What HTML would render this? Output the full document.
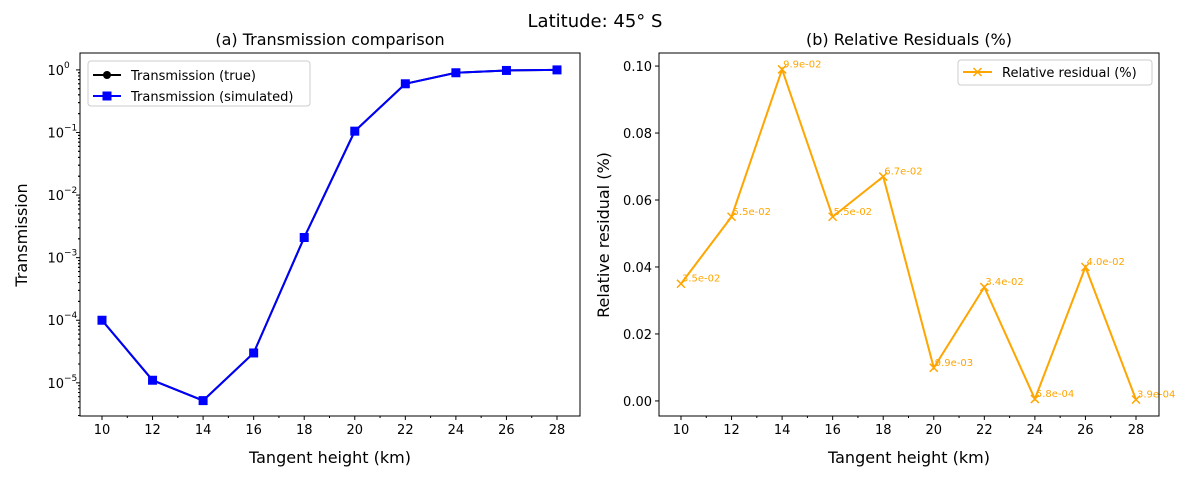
<!DOCTYPE html>
<html><head><meta charset="utf-8"><style>
body{margin:0;background:#fff;}
svg{display:block;font-family:"DejaVu Sans","Liberation Sans",sans-serif;}
</style></head><body>
<svg id="fig" width="1191" height="479" viewBox="0 0 1191 479" xmlns="http://www.w3.org/2000/svg">
<text x="595" y="27" font-size="18" text-anchor="middle">Latitude: 45° S</text>
<g id="left"></g>
<g id="right"></g>
</svg>
<script>
const heights=[10,12,14,16,18,20,22,24,26,28];
const transTrue=[1e-4,1.1e-5,5.2e-6,3e-5,2.1e-3,0.105,0.6,0.9,0.98,1.0];
const transSim=[1e-4,1.1e-5,5.2e-6,3e-5,2.1e-3,0.105,0.6,0.9,0.98,1.0];
const residuals=[0.035,0.055,0.099,0.055,0.067,0.0099,0.034,0.00058,0.040,0.00039];
const residualLabels=["3.5e-02","5.5e-02","9.9e-02","5.5e-02","6.7e-02","9.9e-03","3.4e-02","5.8e-04","4.0e-02","3.9e-04"];
const xTicks=[10,12,14,16,18,20,22,24,26,28];
const logTicks=[-5,-4,-3,-2,-1,0];
const resTicks=[0,0.02,0.04,0.06,0.08,0.10];
const resTickLabels=["0.00","0.02","0.04","0.06","0.08","0.10"];

const NS="http://www.w3.org/2000/svg";
function mk(parent,tag,attrs,text){const e=document.createElementNS(NS,tag);for(const k in attrs)e.setAttribute(k,attrs[k]);if(text!==undefined)e.textContent=text;parent.appendChild(e);return e;}
const XMIN=9.13,XMAX=28.91;
function xs(L){return v=>L+(v-XMIN)/(XMAX-XMIN)*500;}
const T=53,B=416;

// Left panel
const gl=document.getElementById('left');
const xl=xs(80);
const LMIN=-5.53,LMAX=0.27;
const yl=v=>B-(Math.log10(v)-LMIN)/(LMAX-LMIN)*(B-T);
const yle=e=>B-(e-LMIN)/(LMAX-LMIN)*(B-T);
let r=mk(gl,'rect',{x:80,y:T,width:500,height:B-T,fill:'none',stroke:'#000','stroke-width':1});

xTicks.forEach(t=>{const x=xl(t);
 let l=mk(gl,'line',{x1:x,x2:x,y1:B,y2:B+4,stroke:'#000'});
 
 let tx=mk(gl,'text',{x:x,y:B+18,'font-size':13,'text-anchor':'middle'},t);
 
 if(t<28){let m=mk(gl,'line',{x1:xl(t+1),x2:xl(t+1),y1:B,y2:B+2,stroke:'#000'});}
});
logTicks.forEach(e=>{const y=yle(e);
 let l=mk(gl,'line',{x1:76,x2:80,y1:y,y2:y,stroke:'#000'});
 
 let tx=mk(gl,'text',{x:64,y:y+5,'font-size':13,'text-anchor':'end'},'10');
 
 let sp=mk(gl,'text',{x:64,y:y-2,'font-size':9,'text-anchor':'start'},e===0?'0':'\u2212'+(-e));
 
 for(let d=-1;d<=0;d++){for(let k=2;k<10;k++){const v=e+d+Math.log10(k);if(v>LMIN&&v<LMAX){const yy=yle(v);let m=mk(gl,'line',{x1:78,x2:80,y1:yy,y2:yy,stroke:'#000'});}}}
});
let t1=mk(gl,'text',{x:330,y:45,'font-size':16,'text-anchor':'middle'},'(a) Transmission comparison');

let xa=mk(gl,'text',{x:330,y:463,'font-size':16,'text-anchor':'middle'},'Tangent height (km)');

let ya=mk(gl,'text',{x:0,y:0,'font-size':16,'text-anchor':'middle',transform:'translate(27,235) rotate(-90)'},'Transmission');

let p1=mk(gl,'polyline',{points:heights.map((h,i)=>xl(h)+','+yl(transTrue[i])).join(' '),fill:'none',stroke:'#000','stroke-width':2});

heights.forEach((h,i)=>{let c=mk(gl,'circle',{cx:xl(h),cy:yl(transTrue[i]),r:4,fill:'#000'});});
let p2=mk(gl,'polyline',{points:heights.map((h,i)=>xl(h)+','+yl(transSim[i])).join(' '),fill:'none',stroke:'#0000ff','stroke-width':2});

heights.forEach((h,i)=>{let s=mk(gl,'rect',{x:xl(h)-4.5,y:yl(transSim[i])-4.5,width:9,height:9,fill:'#0000ff'});});
let lg=mk(gl,'g',{});
mk(lg,'rect',{x:88,y:61,width:222,height:45,rx:3,fill:'#fff',stroke:'#ccc'});
mk(lg,'line',{x1:93,x2:121,y1:75,y2:75,stroke:'#000','stroke-width':2});
mk(lg,'circle',{cx:107,cy:75,r:4,fill:'#000'});
let le1=mk(lg,'text',{x:131,y:80,'font-size':13},'Transmission (true)');
mk(lg,'line',{x1:93,x2:121,y1:96,y2:96,stroke:'#0000ff','stroke-width':2});
mk(lg,'rect',{x:102.5,y:91.5,width:9,height:9,fill:'#0000ff'});
let le2=mk(lg,'text',{x:131,y:101,'font-size':13},'Transmission (simulated)');

// Right panel
const gr=document.getElementById('right');
const xr=xs(659);
const RMIN=-0.0045,RMAX=0.1039;
const yr=v=>B-(v-RMIN)/(RMAX-RMIN)*(B-T);
r=mk(gr,'rect',{x:659,y:T,width:500,height:B-T,fill:'none',stroke:'#000','stroke-width':1});

xTicks.forEach(t=>{const x=xr(t);
 let l=mk(gr,'line',{x1:x,x2:x,y1:B,y2:B+4,stroke:'#000'});
 
 let tx=mk(gr,'text',{x:x,y:B+18,'font-size':13,'text-anchor':'middle'},t);
 
 if(t<28){let m=mk(gr,'line',{x1:xr(t+1),x2:xr(t+1),y1:B,y2:B+2,stroke:'#000'});}
});
resTicks.forEach((v,i)=>{const y=yr(v);
 let l=mk(gr,'line',{x1:655,x2:659,y1:y,y2:y,stroke:'#000'});
 
 let tx=mk(gr,'text',{x:652,y:y+5,'font-size':13,'text-anchor':'end'},resTickLabels[i]);
 
});
let t2=mk(gr,'text',{x:909,y:45,'font-size':16,'text-anchor':'middle'},'(b) Relative Residuals (%)');

let xb=mk(gr,'text',{x:909,y:463,'font-size':16,'text-anchor':'middle'},'Tangent height (km)');

let yb=mk(gr,'text',{x:0,y:0,'font-size':16,'text-anchor':'middle',transform:'translate(609,235) rotate(-90)'},'Relative residual (%)');

let p3=mk(gr,'polyline',{points:heights.map((h,i)=>xr(h)+','+yr(residuals[i])).join(' '),fill:'none',stroke:'#ffa500','stroke-width':2});

heights.forEach((h,i)=>{const x=xr(h),y=yr(residuals[i]);
 let m=mk(gr,'path',{d:`M${x-4},${y-4}L${x+4},${y+4}M${x-4},${y+4}L${x+4},${y-4}`,stroke:'#ffa500','stroke-width':1.5});
 
 let a=mk(gr,'text',{x:x+1,y:y-2,'font-size':10,fill:'#ffa500'},residualLabels[i]);
 
});
let lg2=mk(gr,'g',{});
mk(lg2,'rect',{x:958,y:60,width:194,height:25,rx:3,fill:'#fff',stroke:'#ccc'});
mk(lg2,'line',{x1:963,x2:992,y1:72,y2:72,stroke:'#ffa500','stroke-width':2});
mk(lg2,'path',{d:'M973.5,68L981.5,76M973.5,76L981.5,68',stroke:'#ffa500','stroke-width':1.5});
let le3=mk(lg2,'text',{x:1002,y:77,'font-size':13},'Relative residual (%)');
</script>
</body></html>
